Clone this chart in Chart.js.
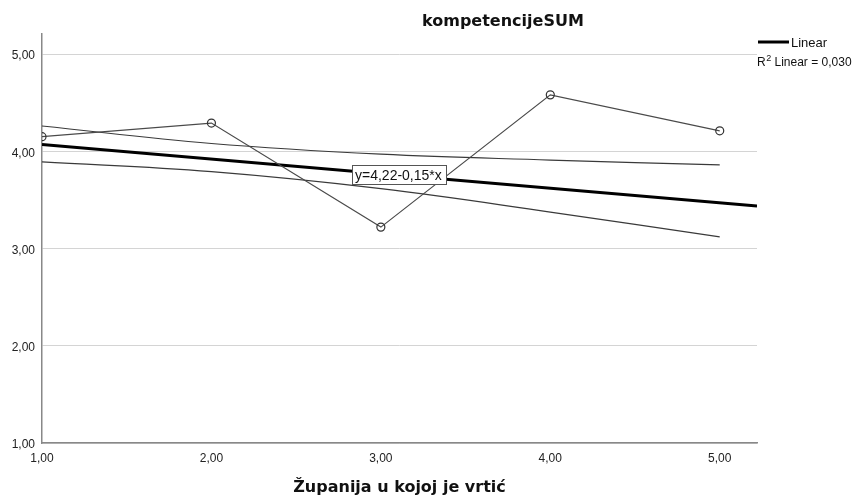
<!DOCTYPE html>
<html>
<head>
<meta charset="utf-8">
<script src="https://cdn.jsdelivr.net/npm/chart.js@4"></script>
<style>
  html, body { margin: 0; padding: 0; background: #fff; }
  #wrap { width: 859px; height: 495px; }
</style>
</head>
<body>
<div id="wrap"><canvas id="chart" width="859" height="495"></canvas></div>
<script>
// values
const categories = [1, 2, 3, 4, 5];
const observed = [4.15, 4.29, 3.22, 4.58, 4.21];
const upperBand = [4.26, 4.08, 3.97, 3.91, 3.86];
const lowerBand = [3.89, 3.79, 3.615, 3.375, 3.12];
const fitX = [1, 5.22];
const fitY = [4.07, 3.437];
const yTicks = [1, 2, 3, 4, 5];
const yTickLabels = ["1,00", "2,00", "3,00", "4,00", "5,00"];
const xTicks = [1, 2, 3, 4, 5];
const xTickLabels = ["1,00", "2,00", "3,00", "4,00", "5,00"];

const chartTitle = "kompetencijeSUM";
const xTitle = "Županija u kojoj je vrtić";
const equation = "y=4,22-0,15*x";
const legendLabel = "Linear";
const r2Label = " Linear = 0,030";

const FONT = "'Liberation Sans', Arial, sans-serif";
const BOLD = "'DejaVu Sans', Verdana, sans-serif";

function pts(xs, ys) {
  return xs.map((x, i) => ({ x: x, y: ys[i] }));
}

// titles, legend and equation box
const textPlugin = {
  id: "textPlugin",
  afterDraw(chart) {
    const ctx = chart.ctx;
    const area = chart.chartArea;
    ctx.save();
    ctx.fillStyle = "#111";
    ctx.textBaseline = "alphabetic";

    ctx.font = "bold 16px " + BOLD;
    ctx.textAlign = "left";
    ctx.fillText(chartTitle, 422, 26);

    ctx.textAlign = "center";
    ctx.fillText(xTitle, (area.left + area.right) / 2, 492);

    // legend
    ctx.textAlign = "left";
    ctx.strokeStyle = "#000";
    ctx.lineWidth = 3;
    ctx.beginPath();
    ctx.moveTo(758, 42);
    ctx.lineTo(789, 42);
    ctx.stroke();
    ctx.font = "13px " + FONT;
    ctx.fillText(legendLabel, 791, 47);

    ctx.font = "12px " + FONT;
    ctx.fillText("R", 757, 66);
    const rw = ctx.measureText("R").width;
    ctx.font = "9px " + FONT;
    ctx.fillText("2", 757 + rw + 0.5, 61);
    const sw = ctx.measureText("2").width;
    ctx.font = "12px " + FONT;
    ctx.fillText(r2Label, 757 + rw + sw + 0.5, 66);

    // equation box
    ctx.fillStyle = "#fff";
    ctx.fillRect(352, 165, 95, 20);
    ctx.strokeStyle = "#555";
    ctx.lineWidth = 1;
    ctx.strokeRect(352.5, 165.5, 94, 19);
    ctx.fillStyle = "#111";
    ctx.font = "14px " + FONT;
    ctx.fillText(equation, 355, 180);
    ctx.restore();
  }
};

new Chart(document.getElementById("chart"), {
  type: "scatter",
  data: {
    datasets: [
      {
        label: "observed",
        data: pts(categories, observed),
        showLine: true,
        borderColor: "#4a4a4a",
        borderWidth: 1.2,
        pointRadius: 4,
        pointBorderColor: "#333",
        pointBorderWidth: 1.2,
        pointBackgroundColor: "rgba(255,255,255,0)",
        order: 1
      },
      {
        label: "fit",
        data: pts(fitX, fitY),
        showLine: true,
        borderColor: "#000",
        borderWidth: 3,
        pointRadius: 0,
        order: 2
      },
      {
        label: "upper",
        data: pts(categories, upperBand),
        showLine: true,
        borderColor: "#3a3a3a",
        borderWidth: 1.2,
        pointRadius: 0,
        tension: 0.4,
        order: 3
      },
      {
        label: "lower",
        data: pts(categories, lowerBand),
        showLine: true,
        borderColor: "#3a3a3a",
        borderWidth: 1.2,
        pointRadius: 0,
        tension: 0.4,
        order: 3
      }
    ]
  },
  options: {
    responsive: false,
    animation: false,
    layout: { padding: { top: 34, right: 102, left: 0, bottom: 0 } },
    plugins: {
      legend: { display: false },
      tooltip: { enabled: false },
      title: { display: false }
    },
    scales: {
      x: {
        type: "linear",
        min: 1,
        max: 5.22,
        afterBuildTicks: s => { s.ticks = xTicks.map(v => ({ value: v })); },
        afterFit: s => { s.height = 52; },
        grid: { display: false, drawTicks: false },
        border: { display: true, color: "#888", width: 1.5 },
        ticks: {
          padding: 8,
          color: "#222",
          font: { family: FONT, size: 12 },
          maxRotation: 0,
          callback: v => xTickLabels[xTicks.indexOf(v)]
        }
      },
      y: {
        min: 1,
        max: 5.206,
        afterBuildTicks: s => { s.ticks = yTicks.map(v => ({ value: v })); },
        afterFit: s => { s.width = 42; },
        grid: { color: "#d4d4d4", lineWidth: 1, drawTicks: false },
        border: { display: true, color: "#888", width: 1.5 },
        ticks: {
          padding: 7,
          labelOffset: 2,
          color: "#222",
          font: { family: FONT, size: 12 },
          callback: v => yTickLabels[yTicks.indexOf(v)]
        }
      }
    }
  },
  plugins: [textPlugin]
});
</script>
</body>
</html>
